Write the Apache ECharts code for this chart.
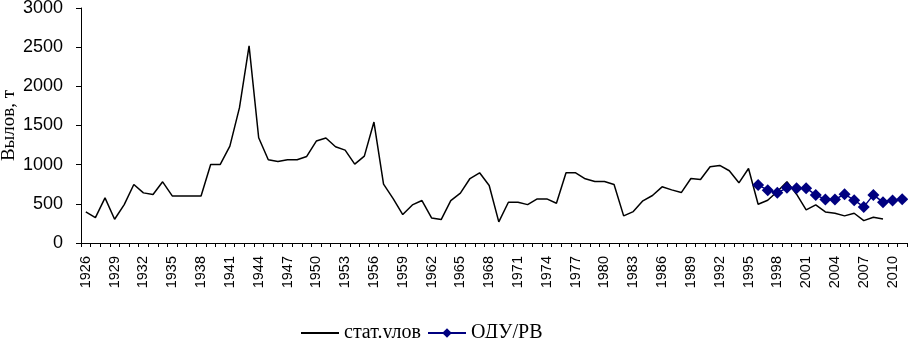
<!DOCTYPE html>
<html><head><meta charset="utf-8">
<script src="https://cdn.jsdelivr.net/npm/echarts@6/dist/echarts.min.js"></script>
<style>html,body{margin:0;padding:0;background:#fff}#c{width:908px;height:338px}</style>
</head><body><div id="c"></div>
<script>
var years = [];
for (var y = 1926; y <= 2011; y++) years.push(String(y));
var catch_ = [397,324,576,303,490,747,640,619,781,601,601,601,601,1003,1003,1237,1728,2517,1344,1062,1041,1062,1062,1105,1301,1340,1229,1186,1007,1109,1544,751,567,363,486,542,320,299,542,636,823,896,734,269,520,520,490,563,563,508,896,896,819,785,785,747,346,401,538,606,717,678,644,823,810,973,990,922,768,951,495,546,657,781,623,422,486,397,380,346,380,286,329,307,null,null];
var tacYears = ['1996','1997','1998','1999','2000','2001','2002','2003','2004','2005','2006','2007','2008','2009','2010','2011'];
var tacVals = [742,674,640,704,700,700,614,555,555,623,546,461,614,521,542,559];
var yTicks = [0,500,1000,1500,2000,2500,3000];

var tacData = years.map(function(yr){ var i = tacYears.indexOf(yr); return i>=0 ? tacVals[i] : null; });

var chart = echarts.init(document.getElementById('c'));
chart.setOption({
  animation:false,
  backgroundColor:'#fff',
  grid:{left:81,right:1,top:8,bottom:95,containLabel:false,outerBoundsMode:'none'},
  legend:{
    top:323,left:300,padding:0,itemGap:6,itemWidth:38,itemHeight:12,
    textStyle:{fontFamily:'Liberation Serif',fontSize:20,color:'#000'},
    data:[{name:'стат.улов',itemStyle:{opacity:0}},{name:'ОДУ/РВ'}]
  },
  xAxis:{
    type:'category',data:years,boundaryGap:true,
    axisLine:{lineStyle:{color:'#000',width:1}},
    axisTick:{show:true,interval:0,length:4,lineStyle:{color:'#000'}},
    axisLabel:{interval:2,rotate:90,fontFamily:'Liberation Sans',fontSize:14.5,color:'#000',margin:13}
  },
  yAxis:{
    type:'value',min:yTicks[0],max:yTicks[yTicks.length-1],interval:500,
    name:'Вылов, т',nameLocation:'middle',nameGap:62,nameMoveOverlap:false,
    nameTextStyle:{fontFamily:'Liberation Serif',fontSize:19,color:'#000'},
    axisLine:{show:true,lineStyle:{color:'#000',width:1}},
    axisTick:{show:true,length:5,lineStyle:{color:'#000'}},
    splitLine:{show:false},
    axisLabel:{fontFamily:'Liberation Sans',fontSize:18,color:'#000',margin:18,formatter:function(v){return String(v);}}
  },
  series:[
    {name:'стат.улов',type:'line',data:catch_,symbol:'none',connectNulls:false,
     lineStyle:{color:'#000',width:1.5},itemStyle:{color:'#000'}},
    {name:'ОДУ/РВ',type:'line',data:tacData,symbol:'diamond',symbolSize:12,showSymbol:true,showAllSymbol:true,
     lineStyle:{color:'#000080',width:1.5},itemStyle:{color:'#000080'}}
  ]
});
</script></body></html>
